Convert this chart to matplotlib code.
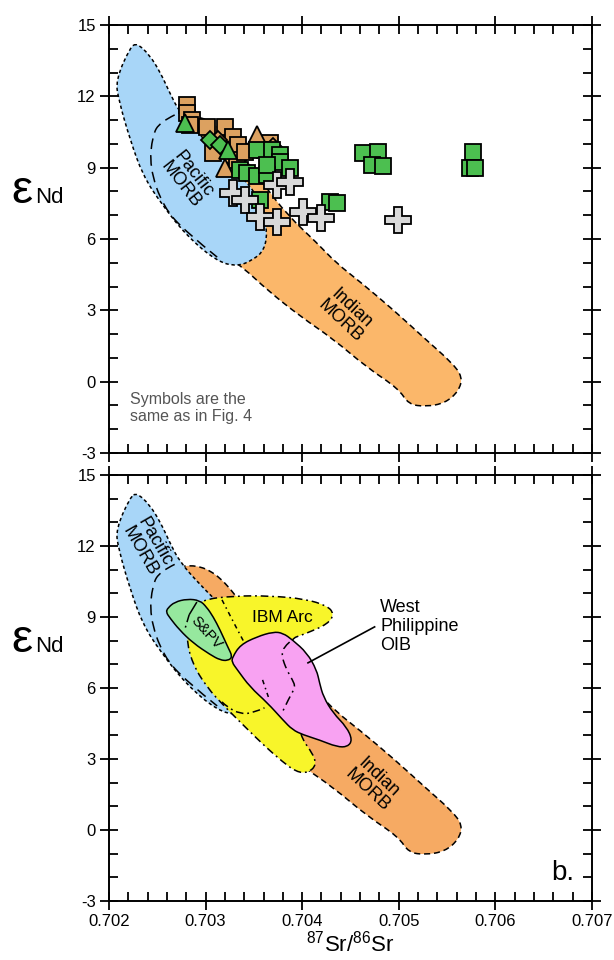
import numpy as np
import matplotlib
matplotlib.use("Agg")
from matplotlib import pyplot as plt
from matplotlib.path import Path
from matplotlib.patches import PathPatch
from matplotlib.ticker import MultipleLocator

plt.rcParams['font.family'] = ['Liberation Sans', 'DejaVu Sans']
plt.rcParams['mathtext.fontset'] = 'custom'
plt.rcParams['mathtext.rm'] = 'Liberation Sans'
plt.rcParams['axes.unicode_minus'] = False

# ---- reference fields (87Sr/86Sr, eNd outlines) ----
pacific_x = [0.70229, 0.70242, 0.70253, 0.70263, 0.70273, 0.70294, 0.70320,
             0.70346, 0.70359, 0.70364, 0.70361, 0.70349, 0.70333, 0.70312,
             0.70280, 0.70253, 0.70235, 0.70222, 0.70210, 0.70207, 0.70222]
pacific_y = [14.24, 13.74, 13.02, 12.14, 11.34, 10.37, 9.32,
             8.27, 7.35, 6.38, 5.54, 5.12, 4.85, 5.05,
             6.15, 7.55, 8.69, 10.16, 11.85, 12.69, 14.07]
pacific_inner_x = [0.70268, 0.70253, 0.70245, 0.70242, 0.70256, 0.70281, 0.70312]
pacific_inner_y = [11.22, 10.92, 10.37, 9.03, 7.35, 6.25, 5.24]

indian_x = [0.70268, 0.70290, 0.70310, 0.70330, 0.70360, 0.70385, 0.70415,
            0.70435, 0.70460, 0.70495, 0.70530, 0.70555, 0.70566, 0.70562,
            0.70548, 0.70528, 0.70510, 0.70500, 0.70467, 0.70432, 0.70398,
            0.70364, 0.70339, 0.70320, 0.70300, 0.70280, 0.70265]
indian_y = [11.10, 11.20, 10.85, 10.00, 8.30, 7.00, 5.85,
            5.00, 4.20, 3.00, 1.70, 0.80, 0.20, -0.40,
            -0.90, -1.05, -0.95, -0.30, 0.60, 1.80, 2.75,
            3.85, 4.80, 5.30, 6.50, 8.50, 10.50]

ibm_x = [0.70294, 0.70330, 0.70367, 0.70403, 0.70426, 0.70433, 0.70427,
         0.70403, 0.70385, 0.70389, 0.70398, 0.70410, 0.70415, 0.70406,
         0.70394, 0.70380, 0.70361, 0.70341, 0.70320, 0.70301, 0.70286,
         0.70280, 0.70284]
ibm_y = [9.72, 9.89, 9.89, 9.76, 9.47, 9.13, 8.71,
         8.28, 8.03, 5.92, 3.93, 3.30, 2.75, 2.41,
         2.45, 2.87, 3.55, 4.35, 5.20, 6.04, 7.06,
         8.11, 9.09]
ibm_inner1_x = [0.70317, 0.70333, 0.70348, 0.70359, 0.70365]
ibm_inner1_y = [9.72, 8.45, 7.31, 6.34, 5.62]
ibm_inner2_x = [0.70317, 0.70322, 0.70336, 0.70349, 0.70361]
ibm_inner2_y = [5.41, 5.20, 4.90, 4.94, 5.16]
ibm_inner3_x = [0.70387, 0.70380, 0.70379, 0.70384, 0.70390, 0.70393, 0.70387, 0.70379]
ibm_inner3_y = [7.94, 7.69, 7.31, 6.76, 6.34, 6.04, 5.62, 4.94]

spv_x = [0.70261, 0.70268, 0.70281, 0.70294, 0.70301, 0.70308, 0.70315,
         0.70323, 0.70328, 0.70323, 0.70315, 0.70305, 0.70287, 0.70273,
         0.70263, 0.70259]
spv_y = [9.38, 9.63, 9.76, 9.70, 9.42, 9.00, 8.45,
         7.73, 7.31, 7.15, 7.18, 7.40, 7.90, 8.45,
         8.96, 9.21]
spv_line_x = [0.70291, 0.70283]
spv_line_y = [9.63, 9.09]
spv_dash_x = [0.70283, 0.70279]
spv_dash_y = [9.09, 8.54]

wpo_x = [0.70328, 0.70336, 0.70353, 0.70370, 0.70380, 0.70390, 0.70405,
         0.70415, 0.70418, 0.70422, 0.70432, 0.70446, 0.70452, 0.70447,
         0.70436, 0.70418, 0.70401, 0.70390, 0.70380, 0.70364, 0.70346,
         0.70333, 0.70327]
wpo_y = [7.31, 7.82, 8.16, 8.37, 8.32, 8.03, 7.48,
         6.76, 6.21, 5.62, 4.94, 4.35, 3.80, 3.51,
         3.51, 3.80, 4.02, 4.23, 4.65, 5.37, 6.04,
         6.76, 7.10]
wpo_leader_x = [0.70406, 0.70475]
wpo_leader_y = [7.06, 8.58]

# ---- samples ----
tan_sq_x = [0.70281, 0.70281, 0.70286, 0.70284, 0.70301, 0.70320, 0.70328,
            0.70334, 0.70308, 0.70333, 0.70341, 0.70367, 0.70361]
tan_sq_y = [11.64, 11.30, 11.00, 10.80, 10.71, 10.71, 10.29,
            9.95, 9.62, 9.32, 9.66, 10.04, 9.74]
tan_dia_x = [0.70370, 0.70313]
tan_dia_y = [9.87, 10.16]
tan_tri_x = [0.70353, 0.70320]
tan_tri_y = [10.37, 8.99]

green_sq_x = [0.70353, 0.70369, 0.70377, 0.70377, 0.70336, 0.70343, 0.70353,
              0.70364, 0.70364, 0.70387, 0.70356, 0.70429, 0.70436,
              0.70463, 0.70478, 0.70472, 0.70484, 0.70577, 0.70574, 0.70579]
green_sq_y = [9.74, 9.74, 9.53, 9.24, 8.90, 8.78, 8.65,
              8.69, 9.11, 8.99, 7.64, 7.56, 7.51,
              9.62, 9.66, 9.11, 9.07, 9.66, 8.99, 8.99]
green_dia_x = [0.70305, 0.70315]
green_dia_y = [10.16, 9.95]
green_tri_x = [0.70279, 0.70323]
green_tri_y = [10.88, 9.74]

cross_x = [0.70328, 0.70341, 0.70374, 0.70387, 0.70356, 0.70374, 0.70401, 0.70420, 0.70499]
cross_y = [7.94, 7.64, 8.27, 8.40, 6.93, 6.72, 7.14, 6.88, 6.80]

X_TICKS = [0.702, 0.703, 0.704, 0.705, 0.706, 0.707]
Y_TICKS = [-3, 0, 3, 6, 9, 12, 15]

BLUE = '#a8d6f8'
TAN = '#dca160'
GREEN = '#4cbf50'


def closed_curve(xs, ys):
    """Smooth closed outline using the points as quadratic control points."""
    pts = np.column_stack([xs, ys])
    mids = (pts + np.roll(pts, -1, axis=0)) / 2
    verts = [mids[-1]]
    codes = [Path.MOVETO]
    for i in range(len(pts)):
        verts += [pts[i], mids[i]]
        codes += [Path.CURVE3, Path.CURVE3]
    return Path(verts, codes)


def open_curve(xs, ys):
    pts = np.column_stack([xs, ys])
    if len(pts) < 3:
        return Path(pts)
    verts = [pts[0]]
    codes = [Path.MOVETO]
    for i in range(1, len(pts) - 1):
        mid = (pts[i] + pts[i + 1]) / 2
        end = pts[i + 1] if i == len(pts) - 2 else mid
        verts += [pts[i], end]
        codes += [Path.CURVE3, Path.CURVE3]
    return Path(verts, codes)


def add_field(ax, xs, ys, color, ls, lw=1.1, edge='black', z=1):
    path = closed_curve(xs, ys)
    ax.add_patch(PathPatch(path, facecolor=color, edgecolor='none', zorder=z))
    ax.add_patch(PathPatch(path, facecolor='none', edgecolor=edge,
                           linestyle=ls, lw=lw, zorder=z + 0.1))


def add_line(ax, xs, ys, ls, lw=1.1, z=3):
    ax.add_patch(PathPatch(open_curve(xs, ys), facecolor='none',
                           edgecolor='black', linestyle=ls, lw=lw, zorder=z))


def style_axis(ax, bottom_labels):
    ax.set_xlim(0.702, 0.707)
    ax.set_ylim(-3, 15)
    ax.xaxis.set_major_locator(MultipleLocator(0.001))
    ax.xaxis.set_minor_locator(MultipleLocator(0.0002))
    ax.yaxis.set_major_locator(MultipleLocator(3))
    ax.yaxis.set_minor_locator(MultipleLocator(1))
    ax.set_xticks(X_TICKS)
    ax.set_yticks(Y_TICKS)
    ax.set_yticklabels([str(v) for v in Y_TICKS])
    ax.set_xticklabels(['{:.3f}'.format(v) for v in X_TICKS])
    ax.tick_params(which='major', direction='inout', length=13, width=1.3,
                   top=True, right=True, labelsize=12, pad=3)
    ax.tick_params(which='minor', direction='in', length=6.5, width=1.3,
                   top=True, right=True)
    ax.tick_params(axis='x', labelbottom=bottom_labels)
    for spine in ax.spines.values():
        spine.set_linewidth(1.4)
    ax.text(-0.203, 0.585, '\u03b5', transform=ax.transAxes, fontsize=34,
            va='baseline', ha='left')
    ax.text(-0.153, 0.585, 'Nd', transform=ax.transAxes, fontsize=16,
            va='baseline', ha='left')


fig = plt.figure(figsize=(6.14, 9.6), dpi=100)
ax1 = fig.add_axes([0.1775, 0.5281, 0.7866, 0.4458])
ax2 = fig.add_axes([0.1775, 0.0615, 0.7866, 0.4438])

dots = (0, (2.2, 1.8))
dashes = (0, (4, 2.5))
long_dash = (0, (7, 4))
dashdot = (0, (5, 2.5, 1.2, 2.5))

# top panel: MORB fields with samples
add_field(ax1, indian_x, indian_y, '#fbb76a', dashes, z=1)
add_field(ax1, pacific_x, pacific_y, BLUE, dots, z=2)
add_line(ax1, pacific_inner_x, pacific_inner_y, long_dash, z=2.5)

ax1.text(0.70281, 8.5, 'Pacific\nMORB', rotation=-52, rotation_mode='anchor',
         ha='center', va='center', fontsize=13, linespacing=1.0, zorder=3)
ax1.text(0.70445, 2.8, 'Indian\nMORB', rotation=-43, rotation_mode='anchor',
         ha='center', va='center', fontsize=13, linespacing=1.0, zorder=3)
ax1.text(0.70222, -0.45, 'Symbols are the\nsame as in Fig. 4', color='#555555',
         fontsize=11.5, ha='left', va='top', linespacing=1.15)

mk = dict(linestyle='none', markeredgecolor='black', markeredgewidth=1.3)
ax1.plot(tan_sq_x, tan_sq_y, 's', ms=11, color=TAN, zorder=4, **mk)
ax1.plot(tan_dia_x, tan_dia_y, 'D', ms=9, color=TAN, zorder=4, **mk)
ax1.plot(tan_tri_x, tan_tri_y, '^', ms=13, color=TAN, zorder=4, **mk)
ax1.plot(green_sq_x, green_sq_y, 's', ms=11, color=GREEN, zorder=5, **mk)
ax1.plot(green_dia_x, green_dia_y, 'D', ms=9, color=GREEN, zorder=5, **mk)
ax1.plot(green_tri_x, green_tri_y, '^', ms=13, color=GREEN, zorder=5, **mk)
ax1.plot(cross_x, cross_y, 'P', ms=19, color='#d9d9d9', zorder=6, **mk)
style_axis(ax1, False)

# bottom panel: comparison fields
add_field(ax2, indian_x, indian_y, '#f6aa63', dashes, z=1)
add_field(ax2, pacific_x, pacific_y, BLUE, dots, z=2)
add_line(ax2, pacific_inner_x, pacific_inner_y, long_dash, z=2.5)
add_field(ax2, ibm_x, ibm_y, '#f8f52a', dashdot, z=3)
add_line(ax2, ibm_inner1_x, ibm_inner1_y, (0, (3, 2.5, 1, 2.5)), z=3.5)
add_line(ax2, ibm_inner2_x, ibm_inner2_y, dashdot, z=3.5)
add_field(ax2, spv_x, spv_y, '#96e89e', '-', z=4)
add_line(ax2, spv_line_x, spv_line_y, '-', z=4.5)
add_line(ax2, spv_dash_x, spv_dash_y, dashdot, z=4.5)
add_field(ax2, wpo_x, wpo_y, '#f8a2f2', '-', z=5)
add_line(ax2, ibm_inner1_x[3:], ibm_inner1_y[3:], (0, (3, 2.5, 1, 2.5)), z=5.5)
add_line(ax2, ibm_inner3_x, ibm_inner3_y, (0, (6, 3, 1.2, 3)), z=5.5)
ax2.plot(wpo_leader_x, wpo_leader_y, color='black', lw=1.2, zorder=6)

ax2.text(0.70240, 11.98, 'Pacific\nMORB', rotation=-60, rotation_mode='anchor',
         ha='center', va='center', fontsize=13, linespacing=1.0, zorder=6)
ax2.text(0.70473, 1.95, 'Indian\nMORB', rotation=-43, rotation_mode='anchor',
         ha='center', va='center', fontsize=13, linespacing=1.0, zorder=6)
ax2.text(0.70379, 8.96, 'IBM Arc', ha='center', va='center', fontsize=12.5,
         zorder=6)
ax2.text(0.70301, 8.33, 'S&PV', rotation=-48, rotation_mode='anchor',
         ha='center', va='center', fontsize=10.5, zorder=6)
ax2.text(0.70481, 9.75, 'West\nPhilippine\nOIB', ha='left', va='top',
         fontsize=13, linespacing=1.15, zorder=6)
ax2.text(0.70682, -2.11, 'b.', ha='right', va='baseline', fontsize=20)
style_axis(ax2, True)
ax2.set_xlabel(r'$^{87}$Sr/$^{86}$Sr', fontsize=16, labelpad=1)

fig.savefig('out.png', dpi=100)
